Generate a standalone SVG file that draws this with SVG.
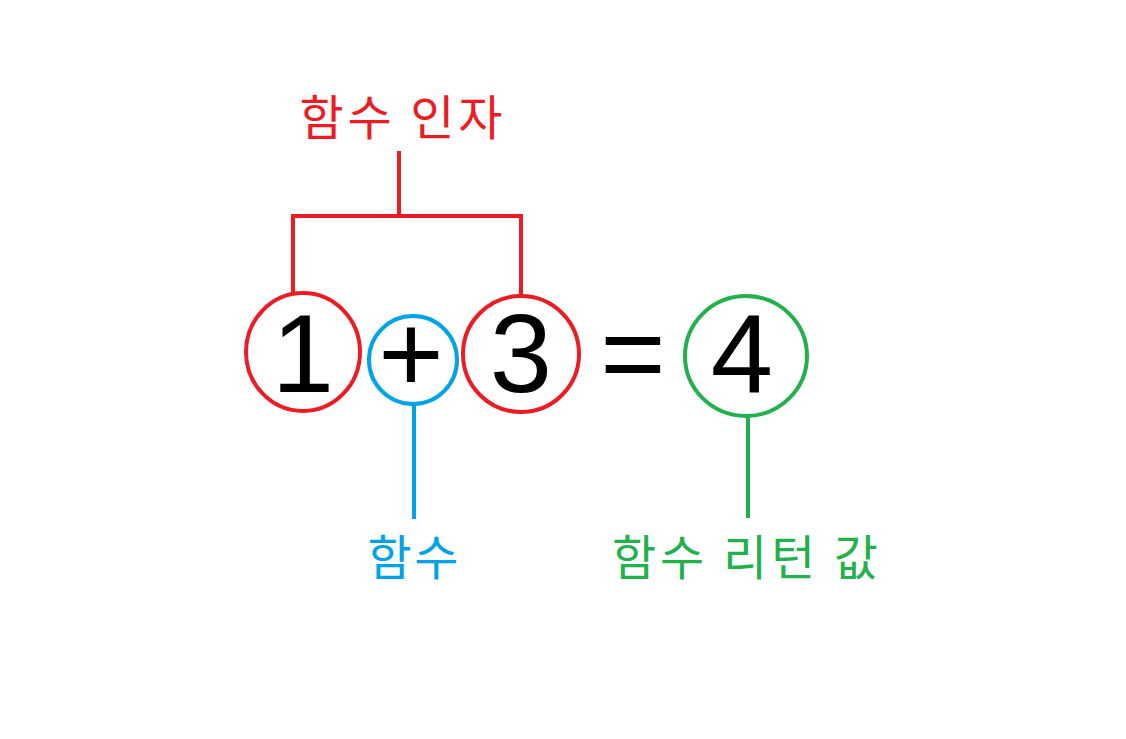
<svg xmlns="http://www.w3.org/2000/svg" width="1126" height="739" viewBox="0 0 1126 739">
<style>
.r{stroke:#ED1C24}.b{stroke:#00A2E8}.g{stroke:#22B14C}
.c{fill:none;stroke-width:4}
.l{fill:none;stroke-width:4;stroke-linecap:square}
.d{font-family:"Liberation Sans",Arial,sans-serif;font-size:112px;fill:#000;text-anchor:middle}
.k{font-family:"Noto Sans CJK KR","Noto Sans",sans-serif;font-size:48px;text-anchor:middle}
</style>
<rect width="1126" height="739" fill="#fff"/>
<g id="connectors">
<path class="l r" d="M399,153 V216 M293,292 V216 H521 V296"/>
<path class="l b" d="M414,405 V517"/>
<path class="l g" d="M748,419 V516"/>
</g>
<g id="n1"><ellipse class="c r" cx="303" cy="352" rx="57" ry="59"/><text class="d" x="303" y="392">1</text></g>
<g id="nplus"><circle class="c b" cx="413" cy="360" r="44"/><text class="d" x="411" y="392">+</text></g>
<g id="n3"><ellipse class="c r" cx="521" cy="354" rx="58" ry="58"/><text class="d" x="521" y="392">3</text></g>
<g id="neq"><text class="d" x="633" y="392">=</text></g>
<g id="n4"><ellipse class="c g" cx="746" cy="356" rx="61" ry="60"/><text class="d" x="742" y="392">4</text></g>
<g id="t1"><text class="k" x="401" y="135" fill="#ED1C24" textLength="203" lengthAdjust="spacing">함수 인자</text></g>
<g id="t2"><text class="k" x="413" y="575" fill="#00A2E8" textLength="91" lengthAdjust="spacing">함수</text></g>
<g id="t3"><text class="k" x="745" y="575" fill="#22B14C" textLength="266" lengthAdjust="spacing">함수 리턴 값</text></g>
</svg>
